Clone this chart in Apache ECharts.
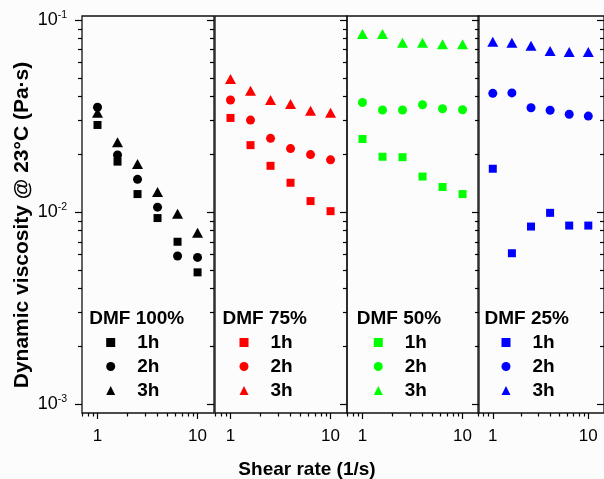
<!DOCTYPE html>
<html><head><meta charset="utf-8">
<script src="https://cdn.jsdelivr.net/npm/echarts@6/dist/echarts.min.js"></script>
<style>html,body{margin:0;padding:0;background:#fcfcfc}#c{width:604px;height:479px}</style>
</head><body><div id="c"></div>
<script>
// ---------------- data ----------------
const shearRates = [1, 1.585, 2.512, 3.981, 6.310, 10];
const panelNames = ['DMF 100%', 'DMF 75%', 'DMF 50%', 'DMF 25%'];
const timeLabels = ['1h', '2h', '3h'];
const panelColors = ['#000000', '#ff0000', '#00ff00', '#0000ff'];
const dmf100_1h = [0.0284, 0.0183, 0.0124, 0.0093, 0.0070, 0.00485];
const dmf100_2h = [0.0351, 0.0198, 0.0148, 0.0106, 0.0059, 0.0058];
const dmf100_3h = [0.0329, 0.0231, 0.0178, 0.0127, 0.0098, 0.0078];
const dmf75_1h = [0.0309, 0.0223, 0.0174, 0.0142, 0.0114, 0.0101];
const dmf75_2h = [0.0383, 0.0301, 0.0242, 0.0214, 0.0199, 0.0187];
const dmf75_3h = [0.0493, 0.0428, 0.0383, 0.0365, 0.0337, 0.0329];
const dmf50_1h = [0.0240, 0.0194, 0.0193, 0.0153, 0.0135, 0.0124];
const dmf50_2h = [0.0372, 0.0340, 0.0340, 0.0362, 0.0345, 0.0341];
const dmf50_3h = [0.0846, 0.0846, 0.0762, 0.0762, 0.0747, 0.0747];
const dmf25_1h = [0.0168, 0.0061, 0.0084, 0.0099, 0.0085, 0.0085];
const dmf25_2h = [0.0415, 0.0417, 0.0349, 0.0339, 0.0323, 0.0316];
const dmf25_3h = [0.0771, 0.0762, 0.0735, 0.0690, 0.0682, 0.0682];
const panelSeries = [
  [dmf100_1h, dmf100_2h, dmf100_3h],
  [dmf75_1h, dmf75_2h, dmf75_3h],
  [dmf50_1h, dmf50_2h, dmf50_3h],
  [dmf25_1h, dmf25_2h, dmf25_3h]
];
const xMajorTicks = [1, 10];
const xMinorTicks = [0.7, 0.8, 0.9, 2, 3, 4, 5, 6, 7, 8, 9];
const yMajorTicks = [0.001, 0.01, 0.1];
const yMinorTicks = [0.002, 0.003, 0.004, 0.005, 0.006, 0.007, 0.008, 0.009,
                     0.02, 0.03, 0.04, 0.05, 0.06, 0.07, 0.08, 0.09];
const xMin = 0.70, xMax = 14.6;
const yMin = 0.000898, yMax = 0.1049;

// ---------------- layout ----------------
const FONT = '"Liberation Sans", Arial, sans-serif';
const panelLeft = [82, 215, 347, 478];
const panelWidth = 132;
const gridTop = 16, gridHeight = 397;
const legendIconX = [110.7, 244, 378.3, 506];
const symbols = ['rect', 'circle', 'triangle'];
const symbolSizes = [8, 9, [11, 10]];

const L10 = Math.log10;
const xl0 = L10(xMin), xl1 = L10(xMax), yl0 = L10(yMin), yl1 = L10(yMax);
const tickStyle = { color: '#000', width: 1.2 };

const grids = [], xAxes = [], yAxes = [], series = [], legends = [], graphics = [];

function decoX(gi, ticks, len, withLabels) {
  xAxes.push({
    type: 'value', gridIndex: gi, position: 'bottom', min: xl0, max: xl1,
    axisLine: { show: false, onZero: false }, splitLine: { show: false },
    axisTick: { show: true, customValues: ticks.map(L10), length: len, inside: false, lineStyle: tickStyle },
    axisLabel: withLabels ? {
      show: true, customValues: ticks.map(L10), margin: 15, fontSize: 17, color: '#000', fontFamily: FONT,
      formatter: v => String(Math.round(Math.pow(10, v)))
    } : { show: false }
  });
}
function decoY(gi, pos, ticks, len, inside, withLabels) {
  yAxes.push({
    type: 'value', gridIndex: gi, position: pos, min: yl0, max: yl1,
    axisLine: { show: false, onZero: false }, splitLine: { show: false },
    axisTick: { show: true, customValues: ticks.map(L10), length: len, inside: inside, lineStyle: tickStyle },
    axisLabel: withLabels ? {
      show: true, customValues: ticks.map(L10), margin: 15, color: '#000', fontFamily: FONT,
      formatter: v => '{b|10}{s|' + Math.round(v) + '}',
      rich: {
        b: { fontSize: 18, lineHeight: 21, fontFamily: FONT, color: '#000' },
        s: { fontSize: 10.5, lineHeight: 10, verticalAlign: 'top', fontFamily: FONT, color: '#000' }
      }
    } : { show: false }
  });
}

for (let p = 0; p < 4; p++) {
  grids.push({ left: panelLeft[p], top: gridTop, width: panelWidth, height: gridHeight,
    show: true, borderColor: '#111', borderWidth: 1.3, backgroundColor: 'transparent' });
  const xDataIdx = xAxes.length;
  xAxes.push({ type: 'log', logBase: 10, gridIndex: p, min: xMin, max: xMax, show: false,
    axisLine: { onZero: false }, splitLine: { show: false } });
  const yDataIdx = yAxes.length;
  yAxes.push({ type: 'log', logBase: 10, gridIndex: p, min: yMin, max: yMax, show: false,
    axisLine: { onZero: false }, splitLine: { show: false } });
  decoX(p, xMajorTicks, 6, true);
  decoX(p, xMinorTicks, 3.5, false);
  decoY(p, 'right', yMajorTicks, 7, true, false);
  decoY(p, 'right', yMinorTicks, 4, true, false);
  if (p === 0) {
    decoY(p, 'left', yMajorTicks, 7, false, true);
    decoY(p, 'left', yMinorTicks, 4, false, false);
  }
  const names = [];
  for (let s = 0; s < 3; s++) {
    const name = panelNames[p] + '|' + timeLabels[s];
    names.push(name);
    series.push({
      type: 'scatter', name: name, xAxisIndex: xDataIdx, yAxisIndex: yDataIdx,
      symbol: symbols[s], symbolSize: symbolSizes[s],
      itemStyle: { color: panelColors[p], opacity: 1 },
      emphasis: { disabled: true },
      data: shearRates.map((x, i) => [x, panelSeries[p][s][i]])
    });
  }
  legends.push({
    data: names, orient: 'vertical', left: legendIconX[p] - 4.5, top: 332.5,
    itemWidth: 9, itemHeight: 9, itemGap: 4, padding: 0, selectedMode: false,
    formatter: n => n.split('|')[1],
    textStyle: { fontSize: 19, fontWeight: 'bold', fontFamily: FONT, color: '#000', lineHeight: 20, padding: [0, 0, 0, 17] }
  });
  graphics.push({ type: 'text', x: legendIconX[p] - 21.5, y: 318.3,
    style: { text: panelNames[p], fontSize: 19, fontWeight: 'bold', fontFamily: FONT, fill: '#000', align: 'left', verticalAlign: 'middle' } });
}
graphics.push({ type: 'text', x: 22, y: 225, rotation: Math.PI / 2,
  style: { text: 'Dynamic viscosity @ 23°C (Pa·s)', fontSize: 21, fontWeight: 'bold', fontFamily: FONT, fill: '#000', align: 'center', verticalAlign: 'middle' } });
graphics.push({ type: 'text', x: 307, y: 470,
  style: { text: 'Shear rate (1/s)', fontSize: 19, fontWeight: 'bold', fontFamily: FONT, fill: '#000', align: 'center', verticalAlign: 'middle' } });

const chart = echarts.init(document.getElementById('c'), null, { renderer: 'canvas' });
chart.setOption({
  backgroundColor: '#fcfcfc',
  animation: false,
  grid: grids, xAxis: xAxes, yAxis: yAxes, series: series, legend: legends, graphic: graphics
});
</script></body></html>
